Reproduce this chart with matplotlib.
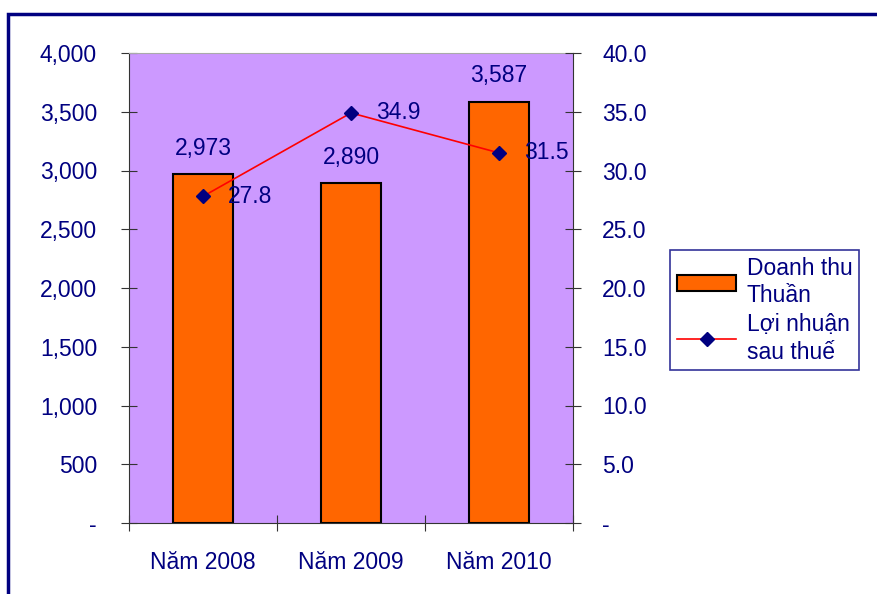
import numpy as np
import matplotlib.pyplot as plt
from matplotlib.patches import Rectangle

years = ["Năm 2008", "Năm 2009", "Năm 2010"]
revenue = [2973, 2890, 3587]
profit = [27.8, 34.9, 31.5]
rev_labels = ["2,973", "2,890", "3,587"]
left_ticks = [0, 500, 1000, 1500, 2000, 2500, 3000, 3500, 4000]
left_labels = ["-", "500", "1,000", "1,500", "2,000", "2,500", "3,000", "3,500", "4,000"]
right_ticks = [0, 5, 10, 15, 20, 25, 30, 35, 40]
right_labels = ["-", "5.0", "10.0", "15.0", "20.0", "25.0", "30.0", "35.0", "40.0"]

NAVY = "#000080"
plt.rcParams['font.family'] = ['Liberation Sans', 'DejaVu Sans']
plt.rcParams['font.size'] = 16.5

fig = plt.figure(figsize=(8.78, 5.94), dpi=100)
W, H = 878, 594
ax = fig.add_axes([129 / W, 1 - 523 / H, (573 - 129) / W, (523 - 53) / H])
ax.set_facecolor("#CC99FF")

x = np.arange(len(years))
bars = ax.bar(x, revenue, width=0.4, color="#FF6600", edgecolor="black", linewidth=1.5,
              zorder=2)
for xi, v, lab in zip(x, revenue, rev_labels):
    ax.text(xi, v + 120, lab, ha="center", va="bottom", color=NAVY)

ax.set_xlim(-0.5, 2.5)
ax.set_ylim(0, 4000)
ax.set_yticks(left_ticks)
ax.set_yticklabels(left_labels, color=NAVY)
# category boundaries get the ticks, names sit at the centres
ax.set_xticks([-0.5, 0.5, 1.5, 2.5])
ax.set_xticklabels([])
ax.set_xticks(x, minor=True)
ax.set_xticklabels(years, minor=True, color=NAVY)
ax.tick_params(axis="x", which="minor", length=0, pad=20)
ax.tick_params(axis="x", which="major", direction="inout", length=11, color="#333333")
ax.tick_params(axis="y", direction="inout", length=12, pad=17, color="#333333")
ax.spines["right"].set_visible(False)
ax.spines["top"].set_color("#AAAAAA")
ax.spines["left"].set_color("#333333")
ax.spines["bottom"].set_color("#333333")

ax2 = ax.twinx()
line, = ax2.plot(x, profit, color="red", linewidth=1.2, marker="D", markersize=7,
                 markerfacecolor=NAVY, markeredgecolor=NAVY, zorder=3)
for xi, v in zip(x, profit):
    ax2.text(xi + 0.17, v, f"{v:.1f}", ha="left", va="center", color=NAVY)
ax2.set_ylim(0, 40)
ax2.set_yticks(right_ticks)
ax2.set_yticklabels(right_labels, color=NAVY)
ax2.tick_params(axis="y", direction="inout", length=12, pad=15, color="#333333")
for s in ["top", "left", "bottom"]:
    ax2.spines[s].set_visible(False)
ax2.spines["right"].set_color("#333333")

leg = fig.legend([bars, line], ["Doanh thu\nThuần", "Lợi nhuận\nsau thuế"],
                 loc="upper left", bbox_to_anchor=(670 / W, 1 - 250 / H),
                 frameon=True, fancybox=False, borderaxespad=0, handlelength=2.6,
                 labelspacing=0.25, borderpad=0.3, handletextpad=0.45)
leg.get_frame().set_edgecolor(NAVY)
leg.get_frame().set_linewidth(1.2)
for t in leg.get_texts():
    t.set_color(NAVY)
    t.set_linespacing(1.25)

fig.patches.append(Rectangle((8 / W, -0.1), 1.1, 1 - 14 / H + 0.1, transform=fig.transFigure,
                             fill=False, edgecolor=NAVY, linewidth=2.5))

fig.savefig("out.png", dpi=100)
